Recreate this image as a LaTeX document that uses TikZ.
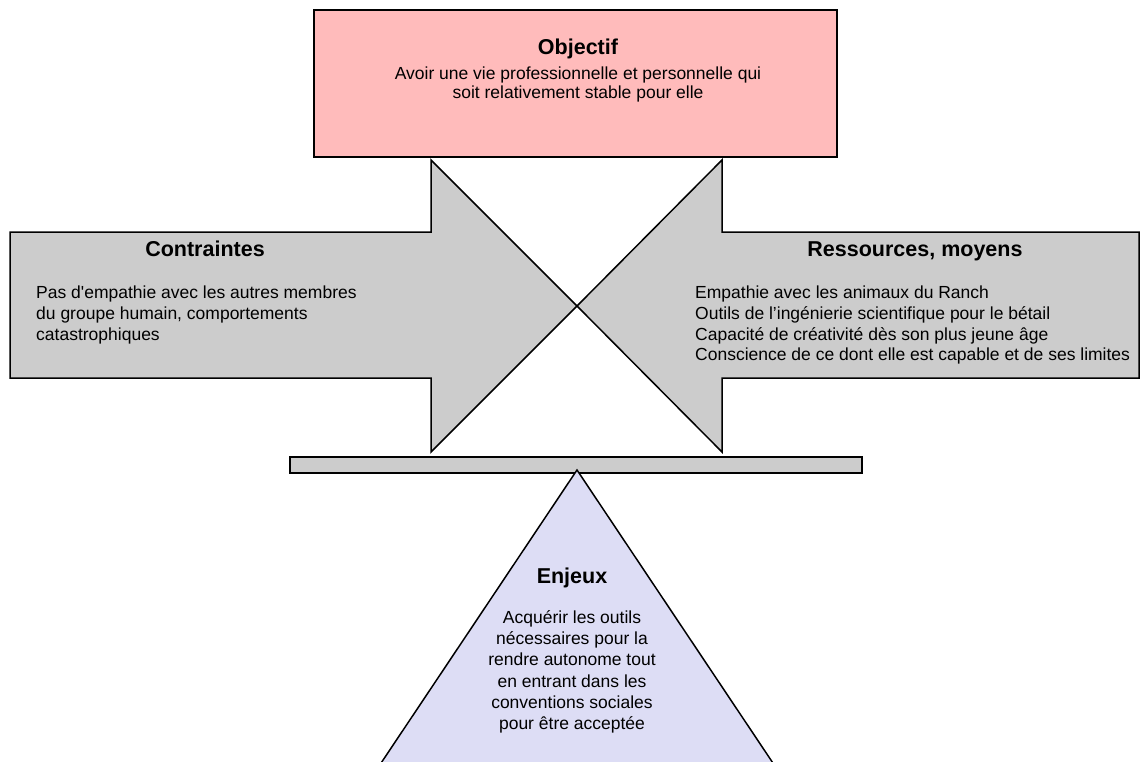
\documentclass[tikz,border=0pt]{standalone}
\usepackage{fontspec}
\newfontfamily\diagfont{Liberation Sans}
\definecolor{objpink}{HTML}{FFBBBB}
\definecolor{arrowgray}{HTML}{CCCCCC}
\definecolor{enjeuxlav}{HTML}{DDDDF5}

\begin{document}
\begin{tikzpicture}[
    x=1pt, y=-1pt,
    block/.style={draw=black, line width=1.5pt, line join=miter},
    title/.style={font={\diagfont\bfseries\fontsize{21.5}{24}\selectfont}, anchor=base, inner sep=0pt},
    body/.style={font={\diagfont\fontsize{17.5}{20.7}\selectfont}, inner sep=0pt, anchor=north}
]
\useasboundingbox (0,0) rectangle (1140,762);
\clip (0,0) rectangle (1140,762);

% Contraintes arrow (left)
\draw[block, fill=arrowgray] (10,232) -- (431,232) -- (431,160) -- (577,306)
    -- (431,452) -- (431,378) -- (10,378) -- cycle;
\node[title] (contr) at (205,256) {Contraintes};
\node[body, anchor=north west, align=left] (contrtxt) at (36,286)
    {Pas d'empathie avec les autres membres\\du groupe humain, comportements\\catastrophiques};

% Ressources arrow (right)
\draw[block, fill=arrowgray] (1139,232) -- (722,232) -- (722,160) -- (577,306)
    -- (722,452) -- (722,378) -- (1139,378) -- cycle;
\node[title] (ress) at (915,256) {Ressources, moyens};
\node[body, anchor=north west, align=left] (resstxt) at (695,286)
    {Empathie avec les animaux du Ranch\\Outils de l’ingénierie scientifique pour le bétail\\Capacité de créativité dès son plus jeune âge\\Conscience de ce dont elle est capable et de ses limites};

% Objectif
\draw[block, fill=objpink] (314,10) rectangle (837,157);
\node[title] (obj) at (578,55) {Objectif};
\node[body, align=center, font={\diagfont\fontsize{17.5}{18.7}\selectfont}] (objtxt) at (578,66.5)
    {Avoir une vie professionnelle et personnelle qui\\soit relativement stable pour elle};

% Balance
\draw[block, fill=arrowgray] (290,457) rectangle (862,473);

% Enjeux
\draw[block, fill=enjeuxlav] (577,470) -- (799,802) -- (355,802) -- cycle;
\node[title] (enj) at (572,583) {Enjeux};
\node[body, align=center, font={\diagfont\fontsize{17.5}{21.2}\selectfont}] (enjtxt) at (572,610.5)
    {Acquérir les outils\\nécessaires pour la\\rendre autonome tout\\en entrant dans les\\conventions sociales\\pour être acceptée};

\end{tikzpicture}
\end{document}
